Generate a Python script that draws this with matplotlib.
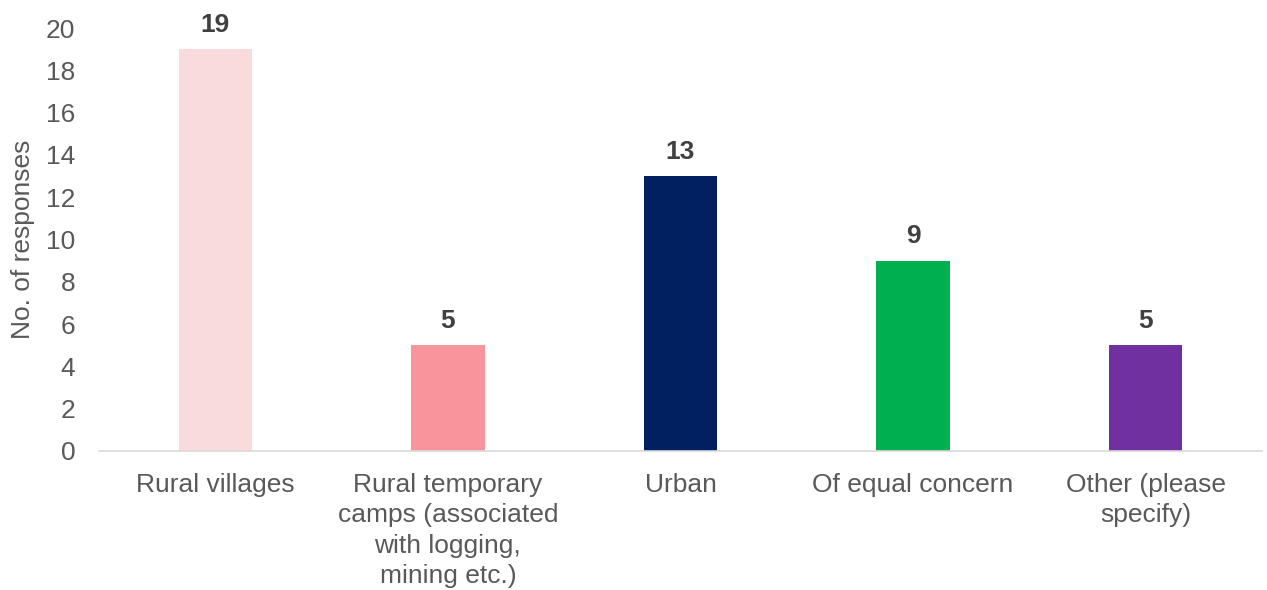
import matplotlib
matplotlib.use("Agg")
from matplotlib import pyplot as plt
import numpy as np

categories = ["Rural villages",
              "Rural temporary\ncamps (associated\nwith logging,\nmining etc.)",
              "Urban", "Of equal concern", "Other (please\nspecify)"]
responses = [19, 5, 13, 9, 5]
colors = ["#FADBDD", "#F8959C", "#002060", "#00B050", "#7030A0"]

plt.rcParams['font.family'] = ['Liberation Sans', 'DejaVu Sans']

fig = plt.figure(figsize=(12.67, 5.9), dpi=100)
ax = fig.add_axes([99/1267, 1-451/590, (1262-99)/1267, (451-28)/590])

x = np.arange(len(categories))
bars = ax.bar(x, responses, width=0.315, color=colors)
for xi, v in zip(x, responses):
    ax.text(xi, v + 0.58, str(v), ha='center', va='bottom',
            fontsize=19, fontweight='bold', color='#404040')

ax.set_xlim(-0.5, len(categories) - 0.5)
ax.set_ylim(0, 20)
ax.set_yticks(range(0, 21, 2))
ax.set_xticks(x)
ax.set_xticklabels(categories, fontsize=19, color='#595959', linespacing=1.33)
ax.tick_params(axis='y', labelsize=19, labelcolor='#595959', length=0, pad=17)
ax.tick_params(axis='x', length=0, pad=16)
ax.set_ylabel('No. of responses', fontsize=19, color='#595959', labelpad=8)

for s in ['top', 'right', 'left']:
    ax.spines[s].set_visible(False)
ax.spines['bottom'].set_color('#D9D9D9')
ax.spines['bottom'].set_linewidth(1.2)

fig.savefig('out.png', dpi=100)
